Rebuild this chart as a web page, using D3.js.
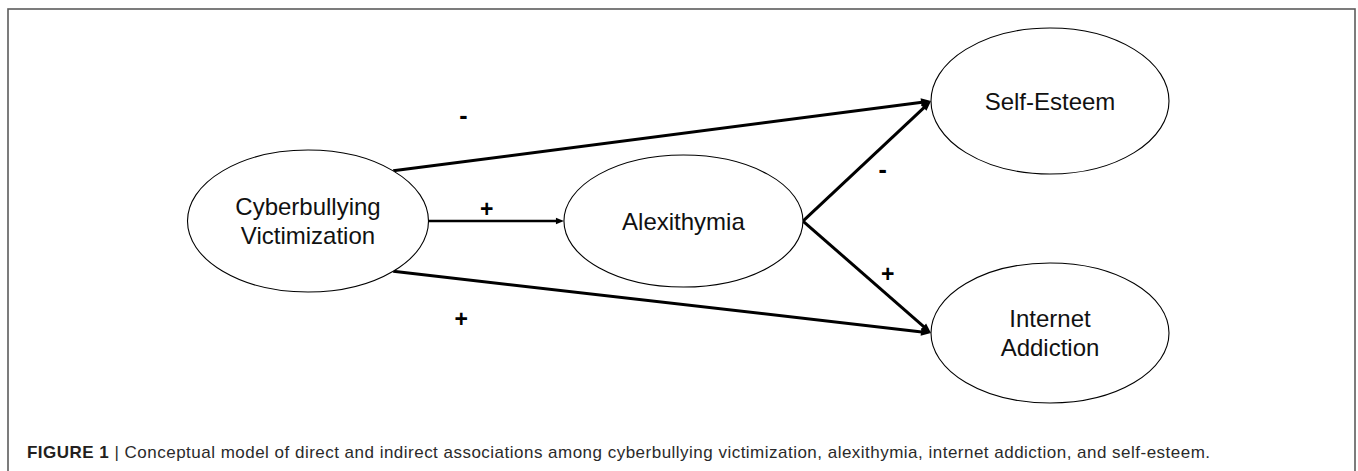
<!DOCTYPE html>
<html>
<head>
<meta charset="utf-8">
<script src="https://cdn.jsdelivr.net/npm/d3@7"></script>
<style>
  html, body { margin: 0; padding: 0; background: #fff; }
  svg { display: block; }
</style>
</head>
<body>
<div id="chart"></div>
<script>
// ---------------- data ----------------
const nodeNames = ["Cyberbullying Victimization", "Alexithymia", "Self-Esteem", "Internet Addiction"];
const nodeLabelLines = [["Cyberbullying", "Victimization"], ["Alexithymia"], ["Self-Esteem"], ["Internet", "Addiction"]];
const nodeColumn = [0, 1.012, 2, 2];        // path-model stage (predictor, mediator, outcomes)
const nodeRow = [0.035, 0.035, -1, 1];       // vertical slot within the model
const edgeSource = [0, 0, 0, 1, 1];
const edgeTarget = [2, 1, 3, 2, 3];
const edgeSign = ["-", "+", "+", "-", "+"];
const captionBold = "FIGURE 1";
const captionText = "Conceptual model of direct and indirect associations among cyberbullying victimization, alexithymia, internet addiction, and self-esteem.";

// ---------------- layout ----------------
const W = 1358, H = 471;
const svg = d3.select("#chart").append("svg").attr("width", W).attr("height", H);
svg.append("rect").attr("width", W).attr("height", H).attr("fill", "#fff");

// frame
svg.append("rect")
  .attr("x", 8).attr("y", 9).attr("width", 1347).attr("height", 480)
  .attr("fill", "none").attr("stroke", "#5c5c5c").attr("stroke-width", 1.6);

const x = d3.scaleLinear().domain([0, 2]).range([308, 1050]);
const y = d3.scaleLinear().domain([-1, 1]).range([101, 333]);

const nodeRx = [120.5, 119.5, 119, 119];
const nodeRy = [71, 66, 73, 70];

const nodes = nodeNames.map((n, i) => ({
  name: n, lines: nodeLabelLines[i],
  cx: x(nodeColumn[i]), cy: y(nodeRow[i]), rx: nodeRx[i], ry: nodeRy[i]
}));

function port(nd, deg) {
  const t = deg * Math.PI / 180;
  return [nd.cx + nd.rx * Math.cos(t), nd.cy + nd.ry * Math.sin(t)];
}

// label placement along edge: [t along edge, offset along normal (up-side positive)]
const labelPlace = [[0.141, 44.5], [0.43, 12], [0.135, -40], [0.526, -18], [0.579, 16]];

const edges = edgeSource.map((s, i) => {
  const src = nodes[s], tgt = nodes[edgeTarget[i]];
  let sdeg = 0;
  if (nodeColumn[edgeTarget[i]] - nodeColumn[s] > 1.5) sdeg = nodeRow[edgeTarget[i]] < 0 ? -45 : 45;
  const p0 = port(src, sdeg);
  const p1 = port(tgt, 180);
  const horizontal = Math.abs(p1[1] - p0[1]) < 1;
  return { i, p0, p1, sign: edgeSign[i], width: horizontal ? 2.4 : 3, head: horizontal ? [8, 6.5] : [10, 8] };
});

const gEdges = svg.append("g");
edges.forEach(e => {
  const dx = e.p1[0] - e.p0[0], dy = e.p1[1] - e.p0[1];
  const len = Math.hypot(dx, dy);
  const ux = dx / len, uy = dy / len;
  const [hl, hw] = e.head;
  const endX = e.p1[0] - ux * hl * 0.7, endY = e.p1[1] - uy * hl * 0.7;
  gEdges.append("line")
    .attr("x1", e.p0[0]).attr("y1", e.p0[1]).attr("x2", endX).attr("y2", endY)
    .attr("stroke", "#000").attr("stroke-width", e.width);
  const bx = e.p1[0] - ux * hl, by = e.p1[1] - uy * hl;
  const px = -uy * hw / 2, py = ux * hw / 2;
  gEdges.append("path")
    .attr("d", `M${e.p1[0]},${e.p1[1]}L${bx + px},${by + py}L${bx - px},${by - py}Z`)
    .attr("fill", "#000");
  // sign label
  const [t, off] = labelPlace[e.i];
  const nx = uy, ny = -ux; // normal pointing "up" for rightward edges
  const lx = e.p0[0] + dx * t + nx * off;
  const ly = e.p0[1] + dy * t + ny * off;
  const fs = e.sign === "-" ? 25 : 23;
  gEdges.append("text")
    .attr("x", lx).attr("y", ly + (e.sign === "+" ? 0.35 : 0.28) * fs)
    .attr("text-anchor", "middle")
    .attr("font-family", "Liberation Sans, Arial, sans-serif")
    .attr("font-size", fs)
    .attr("font-weight", "bold")
    .attr("fill", "#000")
    .text(e.sign);
});

// nodes
const gNodes = svg.append("g").selectAll("g").data(nodes).join("g");
gNodes.append("ellipse")
  .attr("cx", d => d.cx).attr("cy", d => d.cy).attr("rx", d => d.rx).attr("ry", d => d.ry)
  .attr("fill", "#fff").attr("stroke", "#000").attr("stroke-width", 1.1);
const nodeFs = 24, lineH = 28.5;
gNodes.each(function(d) {
  const g = d3.select(this);
  const n = d.lines.length;
  d.lines.forEach((ln, k) => {
    g.append("text")
      .attr("x", d.cx)
      .attr("y", d.cy + (k - (n - 1) / 2) * lineH + 0.36 * nodeFs)
      .attr("text-anchor", "middle")
      .attr("font-family", "Liberation Sans, Arial, sans-serif")
      .attr("font-size", nodeFs)
      .attr("fill", "#111")
      .text(ln);
  });
});

// caption
const cap = svg.append("text")
  .attr("x", 27).attr("y", 458)
  .attr("font-family", "Liberation Sans, Arial, sans-serif")
  .attr("font-size", 17)
  .attr("fill", "#2a2a2a");
cap.append("tspan").attr("font-weight", "bold").attr("fill", "#231f20").text(captionBold);
cap.append("tspan").text(" | ");
cap.append("tspan").text(captionText);
const natural = cap.node().getComputedTextLength();
const nChars = (captionBold + " | " + captionText).length;
const target = 1183;
cap.style("letter-spacing", ((target - natural) / (nChars - 1)) + "px");
</script>
</body>
</html>
